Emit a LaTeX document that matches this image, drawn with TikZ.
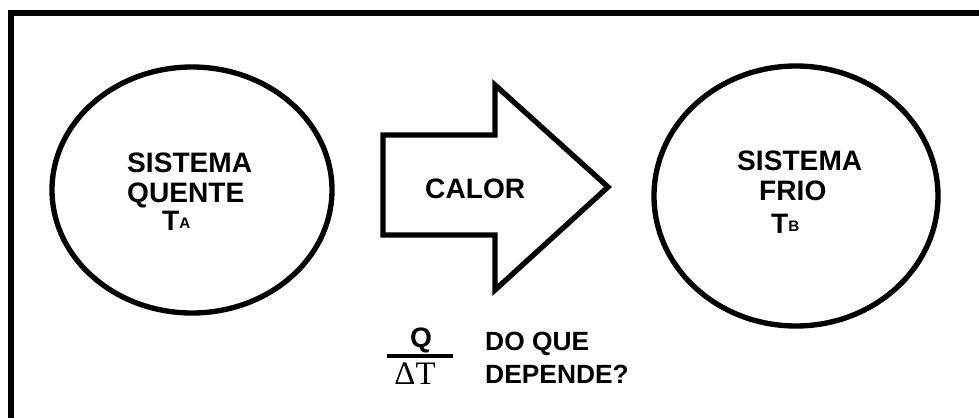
\documentclass[tikz,border=0pt]{standalone}
\usepackage{fontspec}
\setmainfont{Liberation Sans}
\newfontfamily\serifface{Liberation Serif}

\begin{document}
\begin{tikzpicture}[x=.3mm,y=-.3mm,line join=miter,
  lbl/.style={font=\bfseries\fontsize{24}{28}\selectfont,inner sep=0,anchor=base west},
  qlbl/.style={font=\bfseries\fontsize{22.5}{26}\selectfont,inner sep=0,anchor=base west}]
\useasboundingbox (0,0) rectangle (979,418);
\fill[white] (0,0) rectangle (979,418);
% frame, only top and left show
\draw[line width=1.8mm] (979,13)--(11,13)--(11,418);
% hot system
\draw[line width=1.6mm] (192,190) ellipse [x radius=140,y radius=123];
\node[lbl] (hotA) at (127,172) {SISTEMA};
\node[lbl] (hotB) at (127,202) {QUENTE};
\node[lbl] (hotT) at (162,230) {T\raisebox{1.4pt}{\fontsize{13}{13}\selectfont A}};
% heat arrow
\draw[line width=1.6mm,fill=white] (383,135)--(495,135)--(495,85)--(608,187)--(495,290)--(495,235)--(383,235)--cycle;
\node[lbl] (heat) at (425,198) {CALOR};
% cold system
\draw[line width=1.6mm] (796,196) ellipse [x radius=142,y radius=130];
\node[lbl] (coldA) at (737,170) {SISTEMA};
\node[lbl] (coldB) at (759,200) {FRIO};
\node[lbl] (coldT) at (771,233) {T\raisebox{1.4pt}{\fontsize{13}{13}\selectfont B}};
% Q over Delta T
\node[qlbl,anchor=base,font=\bfseries\fontsize{24}{28}\selectfont] (q) at (421,347) {Q};
\draw[line width=1.2mm] (387,356)--(453,356);
\node[inner sep=0,anchor=base,font=\serifface\fontsize{28}{30}\selectfont] (dt) at (415,384) {ΔT};
\node[qlbl] (ask1) at (485,350) {DO QUE};
\node[qlbl] (ask2) at (485,383) {DEPENDE?};
\end{tikzpicture}
\end{document}
